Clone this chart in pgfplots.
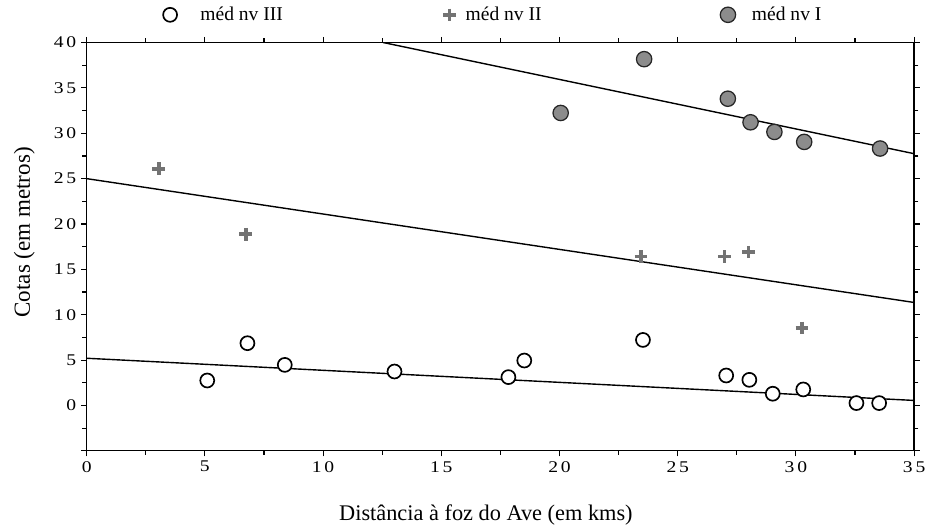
\documentclass[border=0pt]{standalone}
\usepackage{fontspec}
\setmainfont{Liberation Serif}
\newfontfamily\tickfont[FakeStretch=1.2]{Liberation Serif}
\usepackage{pgfplots}
\pgfplotsset{compat=1.18}
\newcommand{\ds}{\kern2pt}
\newcommand{\tl}[1]{\mbox{\tickfont\fontsize{11.7}{13}\selectfont #1}}
\begin{document}
\begin{tikzpicture}
\begin{axis}[
 scale only axis, width=592.9pt, height=292.5pt,
 xmin=0, xmax=35, ymin=-5, ymax=40,
 axis line style={line width=1pt},
 tick align=outside,
 major tick length=4pt, minor tick length=3pt,
 every tick/.style={black, line width=0.8pt},
 xtick={0,5,...,35},
 xticklabels={\tl{0},\tl{5},\tl{1\ds0},\tl{1\ds5},\tl{2\ds0},\tl{2\ds5},\tl{3\ds0},\tl{3\ds5}},
 minor xtick={2.5,7.5,...,32.5},
 ytick={-5,0,5,...,40},
 yticklabels={,\tl{0},\tl{5},\tl{1\ds0},\tl{1\ds5},\tl{2\ds0},\tl{2\ds5},\tl{3\ds0},\tl{3\ds5},\tl{4\ds0}},
 minor ytick={-2.5,2.5,...,37.5},
 xlabel={Distância à foz do Ave (em kms)},
 ylabel={Cotas (em metros)},
 xlabel style={font=\fontsize{16}{19}\selectfont, at={(axis description cs:0.4825,-0.1705)}, anchor=base},
 ylabel style={font=\fontsize{16.5}{19}\selectfont, at={(axis description cs:-0.0687,0.535)}, anchor=base},
 legend columns=3,
 legend style={draw=none, fill=none, at={(axis description cs:0.087,1.068)}, anchor=west,
   font=\fontsize{14}{16}\selectfont,
   /tikz/column 1/.style={column sep=14.7pt},
   /tikz/column 2/.style={column sep=113pt},
   /tikz/column 3/.style={column sep=5pt},
   /tikz/column 4/.style={column sep=126pt},
   /tikz/column 5/.style={column sep=9.7pt}},
]
% regression lines
\addplot[black, line width=1pt, forget plot] coordinates {(0,5.2) (35,0.55)};
\addplot[black, line width=1pt, forget plot] coordinates {(0,25.0) (35,11.35)};
\addplot[black, line width=1pt, forget plot] coordinates {(12.55,40) (35,27.75)};
% méd nv III
\addplot[only marks, mark=*, mark size=5pt, mark options={fill=white, draw=black, line width=1.2pt}]
 coordinates {(5.1,2.75) (6.8,6.86) (8.38,4.47) (13.02,3.74) (17.84,3.12) (18.51,4.95)
 (23.53,7.22) (27.05,3.3) (28.03,2.82) (29.02,1.29) (30.31,1.76) (32.56,0.26) (33.52,0.26)};
\addlegendentry{méd nv III}
% méd nv II
\addplot[only marks, mark=+, mark size=4.5pt, mark options={draw=black!55, line width=2.6pt}]
 coordinates {(3.05,26.09) (6.73,18.87) (23.44,16.42) (26.98,16.4) (28.0,16.9) (30.25,8.54)};
\addlegendentry{méd nv II}
% méd nv I
\addplot[only marks, mark=*, mark size=5.5pt, mark options={fill=black!45, draw=black!85, line width=0.9pt}]
 coordinates {(20.05,32.24) (23.58,38.17) (27.12,33.81) (28.08,31.21) (29.09,30.15) (30.35,29.05) (33.56,28.32)};
\addlegendentry{méd nv I}
\end{axis}
\pgfresetboundingbox
\path ([xshift=-62.1pt,yshift=-56.3pt]current axis.south west) rectangle ([xshift=8.5pt,yshift=30.5pt]current axis.north east);
\end{tikzpicture}
\end{document}
